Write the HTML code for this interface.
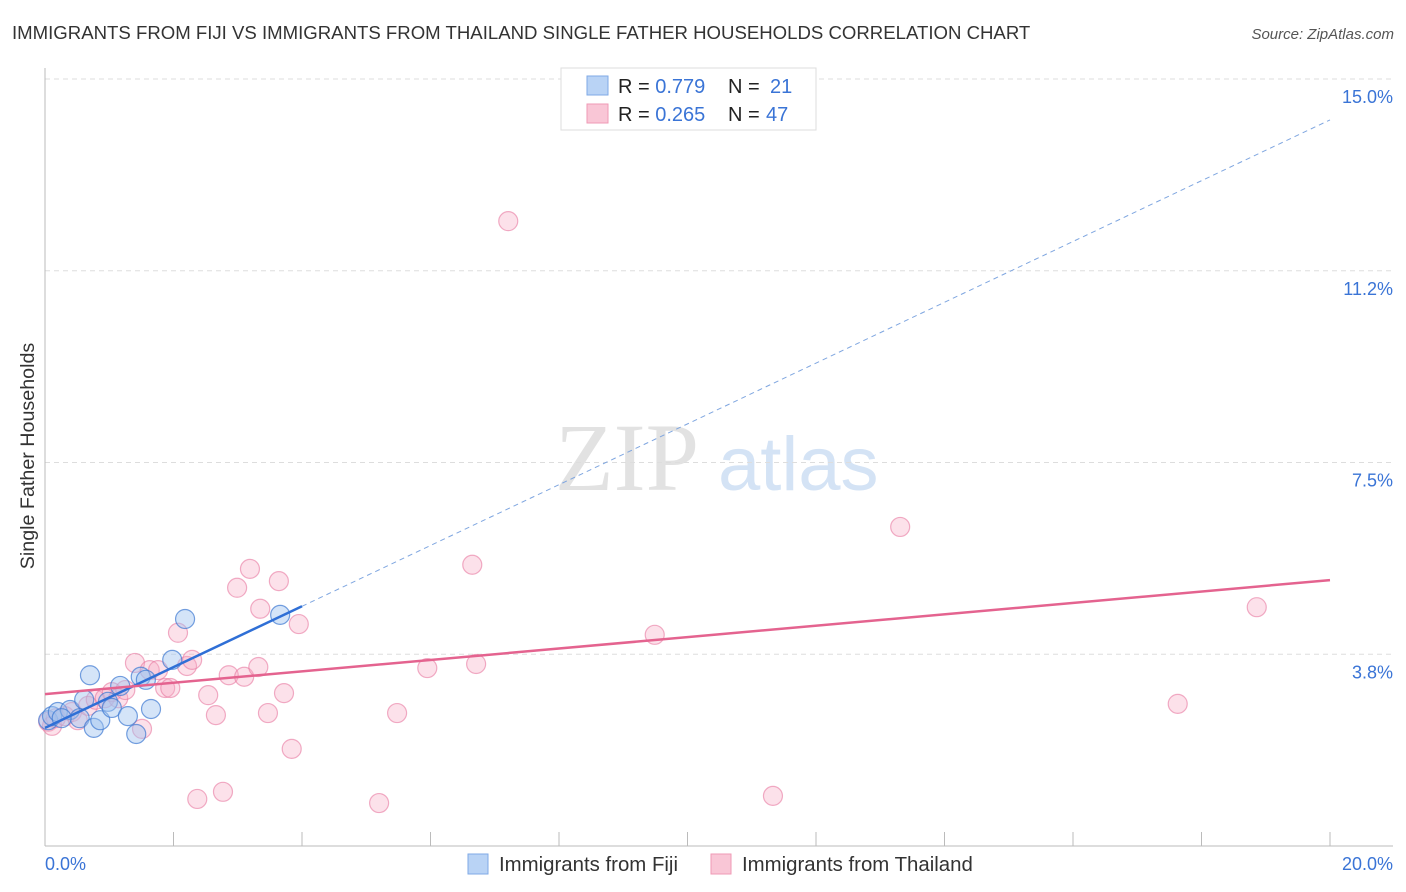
<!DOCTYPE html>
<html><head><meta charset="utf-8"><style>
body{margin:0;background:#fff;font-family:"Liberation Sans",sans-serif;}
svg{display:block}
</style></head><body>
<svg id="chart" width="1406" height="892">
<text x="12" y="39" font-size="18.6" fill="#333">IMMIGRANTS FROM FIJI VS IMMIGRANTS FROM THAILAND SINGLE FATHER HOUSEHOLDS CORRELATION CHART</text>
<text x="1394" y="39" font-size="15" fill="#555" font-style="italic" text-anchor="end">Source: ZipAtlas.com</text>
<text transform="translate(34,456) rotate(-90)" font-size="19.7" fill="#333" text-anchor="middle">Single Father Households</text>
<g>
<text x="555" y="490" font-size="96" font-family="Liberation Serif,serif" fill="#e2e2e2">ZIP</text>
<text x="718" y="490" font-size="76" fill="#d4e3f5">atlas</text>
</g>
<g id="grid"></g>
<g id="axes"></g>
<g id="marks"></g>
<g>
<rect x="561" y="68" width="255" height="62" fill="#fff" stroke="#ddd"/>
<rect x="587" y="76" width="21" height="19" fill="#b9d3f5" stroke="#7fa9e6"/>
<rect x="587" y="104" width="21" height="19" fill="#f9c6d6" stroke="#ef9ab5"/>
<text x="618" y="93" font-size="20" fill="#222">R = <tspan fill="#3a74d6">0.779</tspan><tspan x="728">N = </tspan><tspan x="770" fill="#3a74d6">21</tspan></text>
<text x="618" y="121" font-size="20" fill="#222">R = <tspan fill="#3a74d6">0.265</tspan><tspan x="728">N = </tspan><tspan x="766" fill="#3a74d6">47</tspan></text>
</g>
<g>
<rect x="468" y="854" width="20" height="20" fill="#b9d3f5" stroke="#7fa9e6"/>
<text x="499" y="871" font-size="20.4" fill="#333">Immigrants from Fiji</text>
<rect x="711" y="854" width="20" height="20" fill="#f9c6d6" stroke="#ef9ab5"/>
<text x="742" y="871" font-size="20.4" fill="#333">Immigrants from Thailand</text>
</g>
</svg>
<script>
const yTicks=[15,11.25,7.5,3.75];
const yTickLabels=["15.0%","11.2%","7.5%","3.8%"];
const xTicks=[0,2,4,6,8,10,12,14,16,18,20];
const xEndLabels=["0.0%","20.0%"];
const fijiX=[0.05,0.11,0.20,0.39,0.54,0.61,0.70,0.76,0.86,0.98,1.04,1.17,1.29,1.42,1.49,1.57,1.65,1.98,2.18,3.66,0.26];
const fijiY=[2.46,2.54,2.62,2.66,2.50,2.86,3.34,2.31,2.46,2.82,2.70,3.13,2.54,2.19,3.31,3.25,2.68,3.64,4.44,4.52,2.50];
const thaiX=[0.05,0.11,0.17,0.31,0.42,0.51,0.67,0.79,0.93,1.04,1.14,1.25,1.40,1.51,1.63,1.76,1.87,1.95,2.07,2.21,2.29,2.37,2.54,2.66,2.77,2.86,2.99,3.10,3.19,3.32,3.35,3.47,3.64,3.72,3.84,3.95,5.20,5.48,5.95,6.65,6.71,7.21,9.49,11.33,13.31,17.63,18.86];
const thaiY=[2.43,2.35,2.50,2.54,2.62,2.46,2.74,2.86,2.89,3.01,2.89,3.05,3.58,2.29,3.44,3.44,3.09,3.09,4.17,3.52,3.64,0.92,2.95,2.56,1.06,3.34,5.05,3.31,5.42,3.50,4.64,2.60,5.18,2.99,1.90,4.34,0.84,2.60,3.48,5.50,3.56,12.22,4.13,0.98,6.24,2.78,4.67];
const fijiTrend=[2.31,14.2];
const fijiSolidEnd=4.0;
const thaiTrend=[2.97,5.20];
const X=v=>45+v/20*1285;
const Y=v=>846-v/15*767;
const NS="http://www.w3.org/2000/svg";
function mk(t,a,p){const e=document.createElementNS(NS,t);for(const k in a)e.setAttribute(k,a[k]);p.appendChild(e);return e;}
const grid=document.getElementById('grid'),axes=document.getElementById('axes'),marks=document.getElementById('marks');
yTicks.forEach((v,i)=>{
 const l=mk('line',{x1:45,x2:1393,y1:Y(v),y2:Y(v),stroke:'#ddd','stroke-dasharray':'5,4'},grid);
 
 
 const t=mk('text',{x:1393,y:Y(v)+24,'font-size':18,fill:'#3a74d6','text-anchor':'end'},axes);
 t.textContent=yTickLabels[i];
 
 
});
mk('line',{x1:45,x2:45,y1:68,y2:846,stroke:'#bbb'},axes);
mk('line',{x1:45,x2:1393,y1:846,y2:846,stroke:'#bbb'},axes);
xTicks.forEach(v=>{const l=mk('line',{x1:X(v),x2:X(v),y1:832,y2:846,stroke:'#bbb'},axes);
 
 });
const t0=mk('text',{x:45,y:870,'font-size':18,fill:'#3a74d6'},axes);t0.textContent=xEndLabels[0];


const t1=mk('text',{x:1393,y:870,'font-size':18,fill:'#3a74d6','text-anchor':'end'},axes);t1.textContent=xEndLabels[1];


thaiX.forEach((x,i)=>{const c=mk('circle',{cx:X(x),cy:Y(thaiY[i]),r:9.5,fill:'rgba(247,170,195,0.35)',stroke:'rgba(232,120,160,0.6)','stroke-width':1.2},marks);
 
 });
fijiX.forEach((x,i)=>{const c=mk('circle',{cx:X(x),cy:Y(fijiY[i]),r:9.5,fill:'rgba(160,196,240,0.45)',stroke:'rgba(60,120,210,0.7)','stroke-width':1.2},marks);
 
 });
const fy=x=>fijiTrend[0]+(fijiTrend[1]-fijiTrend[0])*x/20;
const ty=x=>thaiTrend[0]+(thaiTrend[1]-thaiTrend[0])*x/20;
const d=mk('line',{x1:X(fijiSolidEnd),y1:Y(fy(fijiSolidEnd)),x2:X(20),y2:Y(fy(20)),stroke:'#7fa6e0','stroke-width':1,'stroke-dasharray':'5,4'},marks);


const s=mk('line',{x1:X(0),y1:Y(fy(0)),x2:X(fijiSolidEnd),y2:Y(fy(fijiSolidEnd)),stroke:'#2f6fd6','stroke-width':2.5},marks);


const p=mk('line',{x1:X(0),y1:Y(ty(0)),x2:X(20),y2:Y(ty(20)),stroke:'#e4638f','stroke-width':2.5},marks);


</script>
</body></html>
